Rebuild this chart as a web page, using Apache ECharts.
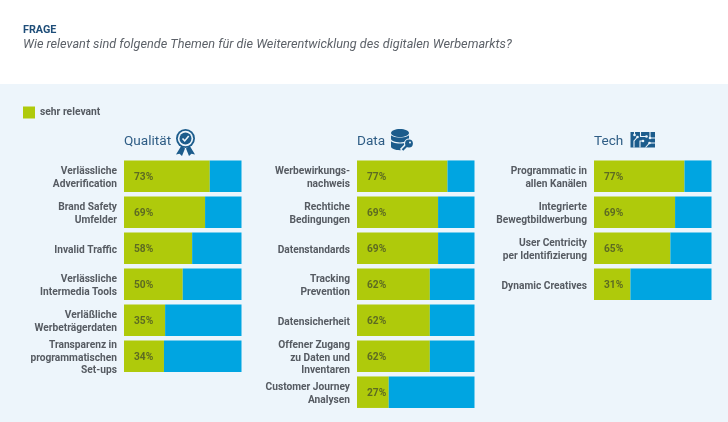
<!DOCTYPE html>
<html>
<head>
<meta charset="utf-8">
<style>html,body{margin:0;padding:0;background:#fff}#main{width:728px;height:422px}</style>
<script src="https://cdn.jsdelivr.net/npm/echarts@6/dist/echarts.min.js"></script>
</head>
<body>
<div id="main"></div>
<script>
// Daten
var catQualitaet = ['Verlässliche\nAdverification', 'Brand Safety\nUmfelder', 'Invalid Traffic', 'Verlässliche\nIntermedia Tools', 'Verläßliche\nWerbeträgerdaten', 'Transparenz in\nprogrammatischen\nSet-ups'];
var valQualitaet = [73, 69, 58, 50, 35, 34];
var restQualitaet = [27, 31, 42, 50, 65, 66];

var catData = ['Werbewirkungs-\nnachweis', 'Rechtiche\nBedingungen', 'Datenstandards', 'Tracking\nPrevention', 'Datensicherheit', 'Offener Zugang\nzu Daten und\nInventaren', 'Customer Journey\nAnalysen'];
var valData = [77, 69, 69, 62, 62, 62, 27];
var restData = [23, 31, 31, 38, 38, 38, 73];

var catTech = ['Programmatic in\nallen Kanälen', 'Integrierte\nBewegtbildwerbung', 'User Centricity\nper Identifizierung', 'Dynamic Creatives'];
var valTech = [77, 69, 65, 31];
var restTech = [23, 31, 35, 69];

var GREEN = '#afca0b', BLUE = '#00a5e1', DARK = '#1c5c8c', BG = '#edf5fb';
var FONT = 'Roboto';
var ROW = 36;

var myChart = echarts.init(document.getElementById('main'), null, {renderer: 'canvas'});

function grid(left, rows) {
    return {left: left, width: 117.5, top: 158.2, height: rows * ROW};
}
function xAxis(i) {
    return {gridIndex: i, type: 'value', min: 0, max: 100, show: false};
}
function yAxis(i, cats) {
    return {
        gridIndex: i, type: 'category', inverse: true, data: cats,
        axisLine: {show: false}, axisTick: {show: false},
        axisLabel: {
            interval: 0, color: '#565b62', fontFamily: FONT, fontWeight: 'bold', fontSize: 10.2, lineHeight: 12.5, margin: 7, align: 'right',
            // kleine Leerzeile schiebt den Text etwas nach unten
            formatter: function (v) { return '{s| }\n' + v; },
            rich: {s: {fontSize: 1, lineHeight: 3.5}}
        }
    };
}
function bars(i, vals, rest) {
    return [{
        name: 'sehr relevant', type: 'bar', stack: 's' + i, xAxisIndex: i, yAxisIndex: i,
        data: vals, barWidth: 31.5, itemStyle: {color: GREEN},
        label: {show: true, position: 'insideLeft', distance: 10, offset: [0, 0.8], formatter: '{c}%', color: '#5d6b22', fontFamily: FONT, fontWeight: 'bold', fontSize: 10.2}
    }, {
        name: 'rest', type: 'bar', stack: 's' + i, xAxisIndex: i, yAxisIndex: i,
        data: rest, barWidth: 31.5, itemStyle: {color: BLUE}, silent: true
    }];
}
function head(text, left) {
    return {text: text, left: left, top: 134.5, padding: 0, textStyle: {color: '#2f5d85', fontFamily: FONT, fontWeight: 'normal', fontSize: 13.6}};
}
function wire(points) {
    return {type: 'polyline', shape: {points: points}, style: {stroke: BG, lineWidth: 1.1, fill: null}};
}
function dot(x, y) {
    return {type: 'circle', shape: {cx: x, cy: y, r: 1.3}, style: {fill: BG}};
}

// Icons
var iconMedal = {type: 'group', x: 185.5, y: 138.5, children: [
    {type: 'polygon', shape: {points: [[-4, 7], [-9.5, 16], [-6, 15.2], [-3.5, 17.5], [-0.5, 10]]}, style: {fill: DARK}},
    {type: 'polygon', shape: {points: [[4, 7], [9.5, 16], [6, 15.2], [3.5, 17.5], [0.5, 10]]}, style: {fill: DARK}},
    {type: 'circle', shape: {r: 9.5}, style: {fill: DARK}},
    {type: 'circle', shape: {r: 7.7}, style: {fill: BG}},
    {type: 'circle', shape: {r: 6}, style: {fill: DARK}},
    {type: 'polyline', shape: {points: [[-3, 0], [-0.8, 2.4], [3.2, -2.4]]}, style: {stroke: BG, lineWidth: 1.6, fill: null}}
]};
var iconDb = {type: 'group', x: 400, y: 140, children: [
    {type: 'ellipse', shape: {cx: 0, cy: 6.5, rx: 9, ry: 3.7}, style: {fill: DARK}},
    {type: 'rect', shape: {x: -9, y: 0, width: 18, height: 6.5}, style: {fill: DARK}},
    {type: 'ellipse', shape: {cx: 0, cy: 0, rx: 9.5, ry: 3.6}, style: {fill: BG}},
    {type: 'ellipse', shape: {cx: 0, cy: -1.2, rx: 9, ry: 3.6}, style: {fill: DARK}},
    {type: 'rect', shape: {x: -9, y: -6, width: 18, height: 4.8}, style: {fill: DARK}},
    {type: 'ellipse', shape: {cx: 0, cy: -6, rx: 9.5, ry: 3.6}, style: {fill: BG}},
    {type: 'ellipse', shape: {cx: 0, cy: -7, rx: 9, ry: 4}, style: {fill: DARK}},
    {type: 'line', shape: {x1: 2, y1: 11, x2: 9, y2: 4}, style: {stroke: BG, lineWidth: 6}},
    {type: 'circle', shape: {cx: 9, cy: 3.5, r: 5}, style: {fill: BG}},
    {type: 'circle', shape: {cx: 9, cy: 3.5, r: 3.9}, style: {fill: DARK}},
    {type: 'circle', shape: {cx: 10, cy: 2.5, r: 1}, style: {fill: BG}},
    {type: 'line', shape: {x1: 7, y1: 5.5, x2: 2.5, y2: 10}, style: {stroke: DARK, lineWidth: 2.2}}
]};
var iconChip = {type: 'group', x: 630.5, y: 132, children: [
    {type: 'rect', shape: {x: 0, y: 0, width: 24.5, height: 15.5}, style: {fill: DARK}},
    wire([[3.5, 15.5], [3.5, 9], [7, 5]]), dot(7, 5),
    wire([[9.5, 15.5], [9.5, 9], [12.5, 9]]), dot(12.5, 9),
    wire([[10, 0], [10, 4.5], [16, 4.5]]), dot(16, 4.5),
    wire([[15, 15.5], [19, 11], [24.5, 11]]), dot(19, 11),
    wire([[19.5, 0], [19.5, 6], [24.5, 6]]), dot(19.5, 6),
    wire([[4, 0], [4, 3]]), dot(4, 3)
]};

var option = {
    animation: false,
    backgroundColor: '#fff',
    title: [
        {text: 'FRAGE', left: 23, top: 25, padding: 0, textStyle: {color: '#1f4e79', fontFamily: FONT, fontWeight: 'bold', fontSize: 10.8}},
        {text: 'Wie relevant sind folgende Themen für die Weiterentwicklung des digitalen Werbemarkts?', left: 23, top: 38, padding: 0, textStyle: {color: '#5c6168', fontFamily: FONT, fontStyle: 'italic', fontWeight: 'normal', fontSize: 12.7}},
        head('Qualität', 124), head('Data', 357), head('Tech', 594)
    ],
    legend: {
        data: ['sehr relevant'], left: 23, top: 106.5, padding: 0, itemWidth: 12, itemHeight: 12, icon: 'rect', itemGap: 5, selectedMode: false,
        textStyle: {color: '#565b62', fontFamily: FONT, fontWeight: 'bold', fontSize: 10.3}
    },
    graphic: [
        {type: 'rect', z: -10, shape: {x: 0, y: 84, width: 728, height: 338}, style: {fill: BG}},
        iconMedal, iconDb, iconChip
    ],
    grid: [grid(124, 6), grid(357, 7), grid(594, 4)],
    xAxis: [xAxis(0), xAxis(1), xAxis(2)],
    yAxis: [yAxis(0, catQualitaet), yAxis(1, catData), yAxis(2, catTech)],
    series: bars(0, valQualitaet, restQualitaet).concat(bars(1, valData, restData), bars(2, valTech, restTech))
};
myChart.setOption(option);
</script>
</body>
</html>
